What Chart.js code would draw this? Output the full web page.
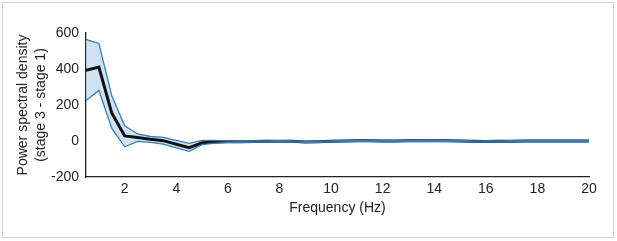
<!DOCTYPE html>
<html><head><meta charset="utf-8">
<script src="https://cdn.jsdelivr.net/npm/chart.js@4/dist/chart.umd.min.js"></script>
<style>
html,body{margin:0;padding:0;background:#fff;}
#wrap{position:relative;width:617px;height:241px;}
#frame{position:absolute;left:2px;top:2px;width:610px;height:234px;border:1px solid #d6d6d6;pointer-events:none;}
canvas{position:absolute;left:0;top:0;}
</style></head><body>
<div id="wrap"><canvas id="c" width="617" height="241"></canvas><div id="frame"></div></div>
<script>
const frequencies = [0.5,1,1.5,2,2.5,3,3.5,4,4.5,5,5.5,6,6.5,7,7.5,8,8.5,9,9.5,10,10.5,11,11.5,12,12.5,13,13.5,14,14.5,15,15.5,16,16.5,17,17.5,18,18.5,19,19.5,20];
const meanPSD  = [393,411,155,28,20,10,2,-18,-37,-10,-6,-4,-4,-3,-2,-1,-2,-5,-4,-2,0,1,1,0,0,1,1,2,1,0,-2,-3,-2,-1,0,0,0,0,0,0];
const upperPSD = [564,542,251,84,39,25,20,3,-13,3,4,1,0,0,1,2,1,-2,-1,1,3,4,4,3,3,4,4,5,4,3,1,0,1,2,3,3,3,3,3,3];
const lowerPSD = [225,281,70,-32,-2,-8,-17,-38,-57,-20,-12,-8,-7,-6,-5,-4,-5,-8,-7,-5,-3,-2,-2,-3,-3,-2,-2,-1,-2,-3,-5,-6,-5,-4,-3,-3,-3,-3,-3,-3];
const xTicks = [2,4,6,8,10,12,14,16,18,20];
const yTicks = [-200,0,200,400,600];

const pts = arr => frequencies.map((f,i)=>({x:f,y:arr[i]}));
const font = {family:"'Liberation Sans', Arial, sans-serif", size:14};
const txt = '#222';

new Chart(document.getElementById('c'), {
  type:'line',
  data:{datasets:[
    {label:'upper', data:pts(upperPSD), borderColor:'#2f7fc0', borderWidth:1.3, pointRadius:0, fill:'+1', backgroundColor:'rgba(175,208,238,0.6)', tension:0, order:0},
    {label:'lower', data:pts(lowerPSD), borderColor:'#2f7fc0', borderWidth:1.3, pointRadius:0, fill:false, tension:0, order:1},
    {label:'mean', data:pts(meanPSD), borderColor:'#111', borderWidth:3, pointRadius:0, fill:false, tension:0, order:2}
  ]},
  options:{
    responsive:false, animation:false,
    layout:{padding:{left:0,right:28,top:33,bottom:0}},
    plugins:{legend:{display:false}, tooltip:{enabled:false}, filler:{drawTime:'beforeDatasetsDraw'}},
    scales:{
      x:{type:'linear', min:0.5, max:20,
        afterBuildTicks:s=>{s.ticks = xTicks.map(v=>({value:v}));},
        afterFit:s=>{s.height=64;},
        grid:{display:false, drawTicks:false},
        border:{display:true,color:'#222',width:1.3},
        ticks:{font, color:txt, padding:4, maxRotation:0, autoSkip:false},
        title:{display:true, text:'Frequency (Hz)', font, color:txt, padding:{top:2,bottom:24}}
      },
      y:{min:-200, max:600,
        afterBuildTicks:s=>{s.ticks = yTicks.map(v=>({value:v}));},
        afterFit:s=>{s.width=86;},
        grid:{display:false, drawTicks:false},
        border:{display:true,color:'#222',width:1.3},
        ticks:{font, color:txt, padding:7},
        title:{display:true, text:['Power spectral density','(stage 3 - stage 1)'], font:{...font, lineHeight:1.3}, color:txt, padding:{top:14,bottom:0}}
      }
    }
  }
});
</script>
</body></html>
